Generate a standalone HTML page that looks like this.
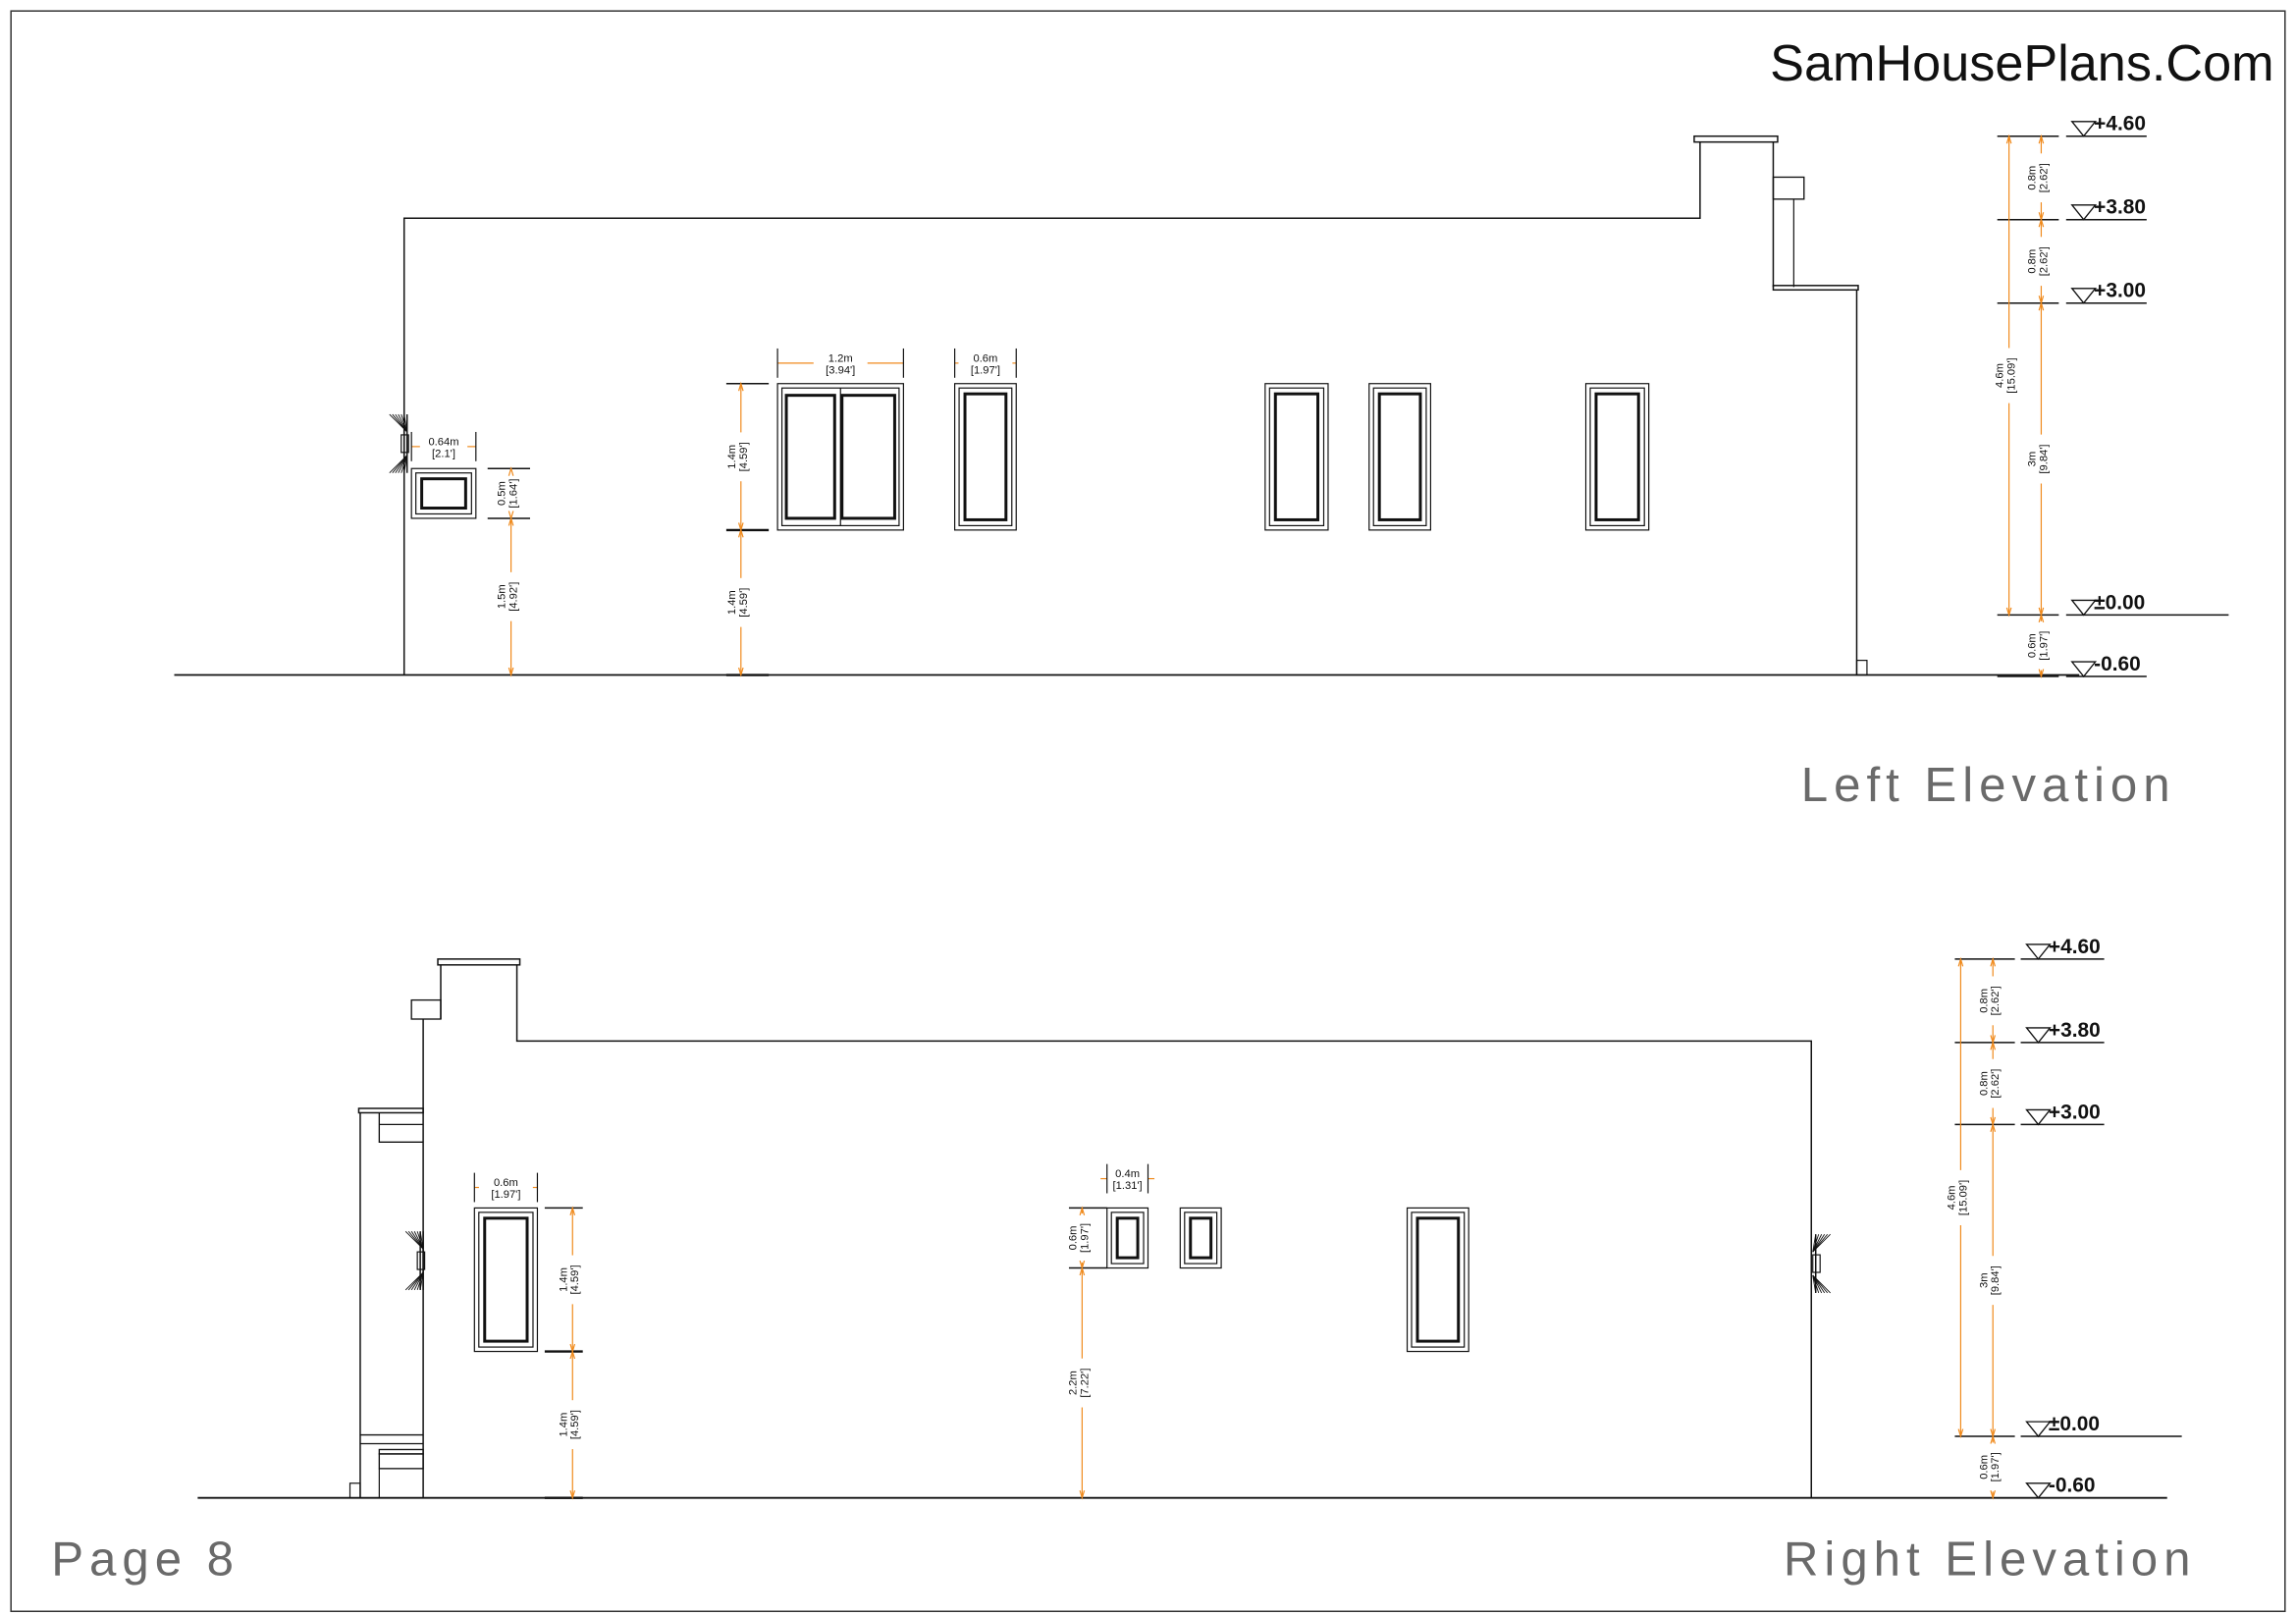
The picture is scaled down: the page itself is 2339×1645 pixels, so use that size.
<!DOCTYPE html>
<html><head><meta charset="utf-8">
<style>
html,body{margin:0;padding:0;background:#fff;}
svg{display:block;}
text{font-family:"Liberation Sans",sans-serif;}
</style></head>
<body>
<svg id="s" width="2339" height="1645" viewBox="0 0 1568 1103" preserveAspectRatio="none" xmlns="http://www.w3.org/2000/svg">
<rect x="0" y="0" width="1568" height="1103" fill="#fff"/>
<rect x="7.5" y="7.5" width="1553" height="1093" fill="none" stroke="#333" stroke-width="1"/>
<text x="1553" y="55" font-size="35" text-anchor="end" fill="#111">SamHousePlans.Com</text>
<text x="1230" y="547" font-size="33" fill="#6a6a6a" letter-spacing="4">Left  Elevation</text>
<text x="1218" y="1076" font-size="33" fill="#6a6a6a" letter-spacing="4">Right  Elevation</text>
<text x="35" y="1076" font-size="33" fill="#6a6a6a" letter-spacing="4">Page  8</text>
<g id="g" fill="none" stroke="#111" stroke-width="1"></g>
</svg>
<script>
const g=document.getElementById('g');const NS='http://www.w3.org/2000/svg';
function el(t,a,txt){const e=document.createElementNS(NS,t);for(const k in a)e.setAttribute(k,a[k]);if(txt!==undefined)e.textContent=txt;g.appendChild(e);return e;}
function L(x1,y1,x2,y2,w,c){el('line',{x1,y1,x2,y2,'stroke-width':w||1,stroke:c||'#111'});}
function R(x,y,w,h,sw){el('rect',{x,y,width:w,height:h,'stroke-width':sw||1});}
function P(d,sw){el('path',{d,'stroke-width':sw||1});}
const OR='#f08a1c';
function win(x1,y1,x2,y2){R(x1,y1,x2-x1,y2-y1,0.8);R(x1+3,y1+3,x2-x1-6,y2-y1-6,0.8);R(x1+7,y1+7,x2-x1-14,y2-y1-14,2);}
function dwin(x1,y1,x2,y2){R(x1,y1,x2-x1,y2-y1,0.8);R(x1+3,y1+3,x2-x1-6,y2-y1-6,0.8);const m=(x1+x2)/2;L(m,y1+3,m,y2-3,0.8);R(x1+6,y1+8,m-x1-10,y2-y1-16,2);R(m+1,y1+8,x2-m-7,y2-y1-16,2);}
function vtext(x,y,a,b){const t=el('text',{x:0,y:0,'font-size':7.5,fill:'#111',stroke:'none','text-anchor':'middle',transform:`translate(${x},${y}) rotate(-90)`});
 const s1=document.createElementNS(NS,'tspan');s1.setAttribute('x',0);s1.setAttribute('dy',-1);s1.textContent=a;t.appendChild(s1);
 const s2=document.createElementNS(NS,'tspan');s2.setAttribute('x',0);s2.setAttribute('dy',8);s2.textContent=b;t.appendChild(s2);}
function htext(x,y,a,b){el('text',{x,y,'font-size':7.5,fill:'#111',stroke:'none','text-anchor':'middle'},a);el('text',{x,y:y+8,'font-size':7.5,fill:'#111',stroke:'none','text-anchor':'middle'},b);}
function vdim(x,y1,y2,a,b,tx){const m=(y1+y2)/2;const h=Math.min(Math.max(a.length,b.length)*2.1+2,(y2-y1)/2-1);
 L(x,y1,x,m-h,0.8,OR);L(x,m+h,x,y2,0.8,OR);
 el('path',{d:`M${x-1.5},${y1+5}L${x},${y1}L${x+1.5},${y1+5}`,stroke:OR,'stroke-width':0.8});
 el('path',{d:`M${x-1.5},${y2-5}L${x},${y2}L${x+1.5},${y2-5}`,stroke:OR,'stroke-width':0.8});
 vtext(x+(tx||0),m,a,b);}
function hdim(y,x1,x2,a,b){const m=(x1+x2)/2;const w=Math.max(a.length,b.length)*2.2+3;
 L(x1,y,m-w,y,0.8,OR);L(m+w,y,x2,y,0.8,OR);L(x1,y-10,x1,y+10,0.8);L(x2,y-10,x2,y+10,0.8);
 htext(m,y-1,a,b);}
function level(xl,y,x2,label,lx){L(xl,y,x2,y,1);el('path',{d:`M${lx},${y-10}L${lx+16},${y-10}L${lx+8},${y}Z`,'stroke-width':0.9});
 el('text',{x:lx+15,y:y-4,'font-size':14,'font-weight':'bold',fill:'#111',stroke:'none'},label);}
function fixture(x,y){for(let i=0;i<6;i++){L(x+i*2,y,x+12,y+12,0.6);L(x+i*2,y+40,x+12,y+28,0.6);}L(x+10,y,x+10,y+40,1);R(x+8,y+14,5,12,0.8);L(x+12,y,x+12,y+40,1);}

/* ===== LEFT ELEVATION ===== */
L(119,461,1420,461,1.2);
P('M276,461V149H1161V97M1211,97V196',1);
R(1157,93,57,4,1);
R(1211,121,21,15,0.9);L(1225,136,1225,196,0.8);
R(1211,195,58,3,1);
L(1268,198,1268,461,1);R(1268,451,7,10,0.8);
fixture(266,283);
win(281,320,325,354);
dwin(531,262,617,362);
win(652,262,694,362);win(864,262,907,362);win(935,262,977,362);win(1083,262,1126,362);
hdim(305,281,325,'0.64m','[2.1\']');
hdim(248,531,617,'1.2m','[3.94\']');
hdim(248,652,694,'0.6m','[1.97\']');
L(333,320,362,320,1);L(333,354,362,354,1);
vdim(349,320,354,'0.5m','[1.64\']',-3);vdim(349,354,461,'1.5m','[4.92\']',-3);
L(496,262,525,262,1);L(496,362,525,362,1.6);L(496,461,525,461,1.6);
vdim(506,262,362,'1.4m','[4.59\']',-3);vdim(506,362,461,'1.4m','[4.59\']',-3);
[[93,'+4.60'],[150,'+3.80'],[207,'+3.00'],[420,'±0.00'],[462,'-0.60']].forEach(([y,l])=>{L(1364,y,1406,y,1);level(1411,y,l=='±0.00'?1522:1466,l,1415);});
vdim(1372,93,420,'4.6m','[15.09\']',-3);
vdim(1394,93,150,'0.8m','[2.62\']',-3);vdim(1394,150,207,'0.8m','[2.62\']',-3);
vdim(1394,207,420,'3m','[9.84\']',-3);vdim(1394,420,462,'0.6m','[1.97\']',-3);

/* ===== RIGHT ELEVATION ===== */
L(135,1023,1480,1023,1.2);
P('M1237,1023V711H353V659M301,659V696',1);
R(299,655,56,4,1);
R(281,683,20,13,0.9);
L(289,696,289,1023,1);
R(245,757,44,3,1);
L(246,760,246,1023,1);
P('M259,760V768H289M259,768V780H289',0.9);
L(246,980,289,980,0.9);L(246,986,289,986,0.9);
R(259,990,30,3,0.9);R(259,993,30,10,0.9);L(259,1003,259,1023,0.8);
R(239,1013,7,10,0.8);
fixture(277,841);
(function(){const x=1238,y=843;for(let i=0;i<6;i++){L(x+12-i*2,y,x,y+12,0.6);L(x+12-i*2,y+40,x,y+28,0.6);}L(x+2,y,x+2,y+40,1);R(x,y+14,5,12,0.8);})();
win(324,825,367,923);
win(756,825,784,866);win(806,825,834,866);
win(961,825,1003,923);
hdim(811,324,367,'0.6m','[1.97\']');
hdim(805,756,784,'0.4m','[1.31\']');
L(372,825,398,825,1);L(372,923,398,923,1.6);L(372,1023,398,1023,1.6);
vdim(391,825,923,'1.4m','[4.59\']',-3);vdim(391,923,1023,'1.4m','[4.59\']',-3);
L(730,825,756,825,1);L(730,866,756,866,1);
vdim(739,825,866,'0.6m','[1.97\']',-3);vdim(739,866,1023,'2.2m','[7.22\']',-3);
[[655,'+4.60'],[712,'+3.80'],[768,'+3.00'],[981,'±0.00'],[1023,'-0.60']].forEach(([y,l])=>{L(1335,y,1376,y,1);level(1380,y,l=='±0.00'?1490:1437,l,1384);});
vdim(1339,655,981,'4.6m','[15.09\']',-3);
vdim(1361,655,712,'0.8m','[2.62\']',-3);vdim(1361,712,768,'0.8m','[2.62\']',-3);
vdim(1361,768,981,'3m','[9.84\']',-3);vdim(1361,981,1023,'0.6m','[1.97\']',-3);
</script>
</body></html>
